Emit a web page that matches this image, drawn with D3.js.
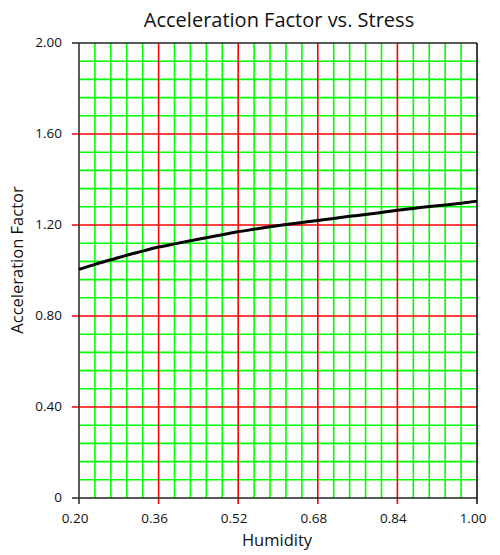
<!DOCTYPE html>
<html>
<head>
<meta charset="utf-8">
<script src="https://cdn.jsdelivr.net/npm/d3@7"></script>
<style>
  body { margin: 0; background: #fff; }
  text { font-family: "Open Sans", "Noto Sans", sans-serif; fill: #111; }
</style>
</head>
<body>
<div id="chart"></div>
<script>
// ------ DATA ------
const humidity = [0.200, 0.232, 0.264, 0.296, 0.328, 0.360, 0.392, 0.424, 0.456, 0.488,
                  0.520, 0.552, 0.584, 0.616, 0.648, 0.680, 0.712, 0.744, 0.776, 0.808,
                  0.840, 0.872, 0.904, 0.936, 0.968, 1.000];
const accelFactor = [1.005, 1.027, 1.047, 1.067, 1.085, 1.103, 1.117, 1.131, 1.144, 1.157,
                     1.170, 1.181, 1.192, 1.202, 1.211, 1.220, 1.229, 1.238, 1.246, 1.255,
                     1.265, 1.273, 1.281, 1.288, 1.296, 1.305];
const xTicks = [0.20, 0.36, 0.52, 0.68, 0.84, 1.00];
const yTicks = [0, 0.40, 0.80, 1.20, 1.60, 2.00];

// ------ LAYOUT ------
const W = 500, H = 555;
const margin = {top: 43, right: 23, bottom: 57, left: 79},
      width = W - margin.left - margin.right,
      height = H - margin.top - margin.bottom;

const svg = d3.select("#chart").append("svg")
    .attr("width", W)
    .attr("height", H);

const g = svg.append("g")
    .attr("transform", `translate(${margin.left},${margin.top})`);

const x = d3.scaleLinear().domain([0.2, 1.0]).range([0, width]);
const y = d3.scaleLinear().domain([0, 2.0]).range([height, 0]);

// minor grid every 1/5 of a major step
const xMinor = d3.range(0, 26).map(i => 0.2 + i * 0.032);
const yMinor = d3.range(0, 26).map(i => i * 0.08);

// green minor lines first
g.selectAll(".vminor")
  .data(xMinor.filter((d, i) => i % 5 != 0))
  .join("line")
    .attr("x1", d => x(d)).attr("x2", d => x(d))
    .attr("y1", 0).attr("y2", height)
    .attr("stroke", "#00ff00").attr("stroke-width", 1.6);

g.selectAll(".hminor")
  .data(yMinor.filter((d, i) => i % 5 != 0))
  .join("line")
    .attr("x1", 0).attr("x2", width)
    .attr("y1", d => y(d)).attr("y2", d => y(d))
    .attr("stroke", "#00ff00").attr("stroke-width", 1.6);

// red major lines, with little ticks sticking out
g.selectAll(".vmajor")
  .data(xTicks.slice(1, -1))
  .join("line")
    .attr("x1", d => x(d)).attr("x2", d => x(d))
    .attr("y1", 0).attr("y2", height + 6)
    .attr("stroke", "#ff0000").attr("stroke-width", 1.6);

g.selectAll(".hmajor")
  .data(yTicks.slice(1, -1))
  .join("line")
    .attr("x1", -7).attr("x2", width)
    .attr("y1", d => y(d)).attr("y2", d => y(d))
    .attr("stroke", "#ff0000").attr("stroke-width", 1.6);

// frame
g.append("line").attr("x1", -7).attr("x2", width).attr("y1", 0).attr("y2", 0)
  .attr("stroke", "#222").attr("stroke-width", 1.6);
g.append("line").attr("x1", -7).attr("x2", width).attr("y1", height).attr("y2", height)
  .attr("stroke", "#222").attr("stroke-width", 1.6);
g.append("line").attr("x1", 0).attr("x2", 0).attr("y1", 0).attr("y2", height + 6)
  .attr("stroke", "#333").attr("stroke-width", 1.6);
g.append("line").attr("x1", width).attr("x2", width).attr("y1", 0).attr("y2", height + 6)
  .attr("stroke", "#111").attr("stroke-width", 1.6);

// tick labels
g.selectAll(".xlab")
  .data(xTicks)
  .join("text")
    .attr("x", d => x(d) - 4)
    .attr("y", height + 25)
    .attr("text-anchor", "middle")
    .style("font-size", "13.5px")
    .text(d => d.toFixed(2));

g.selectAll(".ylab")
  .data(yTicks)
  .join("text")
    .attr("x", -17)
    .attr("y", d => y(d) + 4)
    .attr("text-anchor", "end")
    .style("font-size", "13.5px")
    .text(d => d == 0 ? "0" : d.toFixed(2));

// the curve
g.append("path")
  .datum(humidity.map((h, i) => [h, accelFactor[i]]))
  .attr("fill", "none")
  .attr("stroke", "#000")
  .attr("stroke-width", 3)
  .attr("d", d3.line()
      .x(d => x(d[0]))
      .y(d => y(d[1]))
      .curve(d3.curveMonotoneX));

// titles
svg.append("text")
  .attr("x", 279).attr("y", 27)
  .attr("text-anchor", "middle")
  .style("font-size", "20px")
  .text("Acceleration Factor vs. Stress");

svg.append("text")
  .attr("x", 277).attr("y", 546)
  .attr("text-anchor", "middle")
  .style("font-size", "16.5px")
  .text("Humidity");

svg.append("text")
  .attr("transform", "translate(23,260) rotate(-90)")
  .attr("text-anchor", "middle")
  .style("font-size", "16.5px")
  .text("Acceleration Factor");
</script>
</body>
</html>
